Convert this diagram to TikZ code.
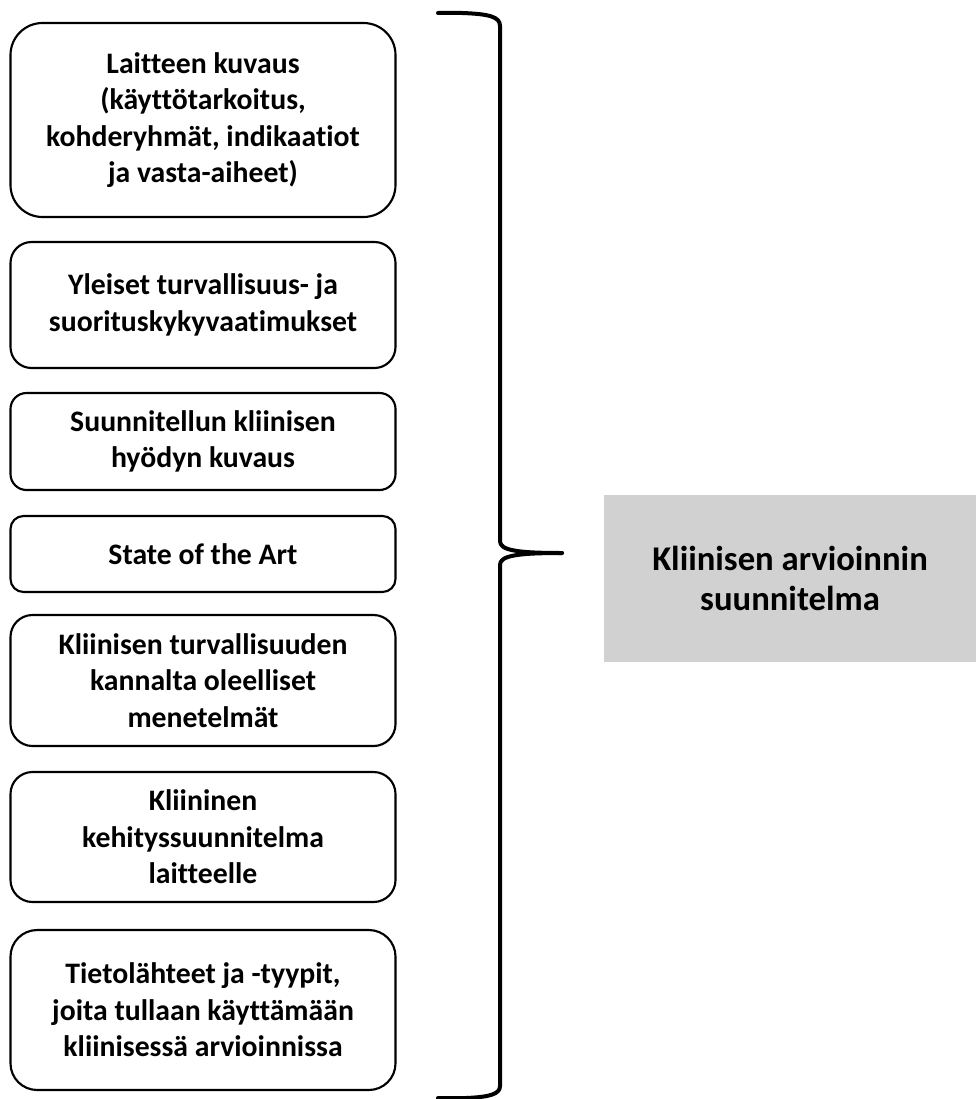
\documentclass[tikz,border=0pt]{standalone}
\usepackage{fontspec}
\setmainfont{Carlito}[Ligatures=NoCommon]
\begin{document}
\begin{tikzpicture}[x=0.75pt,y=-0.75pt,
  item/.style={draw=black, line width=1.6pt, fill=white, align=center,
    minimum width=288.75pt, inner sep=0pt,
    font=\fontsize{22.3}{27.3}\selectfont\bfseries},
  goal/.style={fill=black!18, draw=none, align=center,
    minimum width=279pt, minimum height=125.25pt, inner sep=0pt,
    font=\fontsize{26}{29.5}\selectfont\bfseries},
  bracket/.style={draw=black, line width=3pt, line cap=round, line join=round}]
\useasboundingbox (0,0) rectangle (976,1099);

% list of plan contents
\node[item, minimum height=145.5pt, rounded corners=24pt] (b1) at (203,120)
  {Laitteen kuvaus\\(käyttötarkoitus,\\kohderyhmät, indikaatiot\\ja vasta-aiheet)};
\node[item, minimum height=94.5pt, rounded corners=15.75pt] (b2) at (203,305)
  {Yleiset turvallisuus- ja\\suorituskykyvaatimukset};
\node[item, minimum height=72.75pt, rounded corners=12pt] (b3) at (203,441.5)
  {Suunnitellun kliinisen\\hyödyn kuvaus};
\node[item, minimum height=57pt, rounded corners=9.75pt] (b4) at (203,554)
  {State of the Art};
\node[item, minimum height=98.25pt, rounded corners=16.5pt] (b5) at (203,680.5)
  {Kliinisen turvallisuuden\\kannalta oleelliset\\menetelmät};
\node[item, minimum height=97.5pt, rounded corners=16.5pt] (b6) at (203,837)
  {Kliininen\\kehityssuunnitelma\\laitteelle};
\node[item, minimum height=120pt, rounded corners=20pt] (b7) at (203,1010)
  {Tietolähteet ja -tyypit,\\joita tullaan käyttämään\\kliinisessä arvioinnissa};

% resulting plan
\node[goal] (plan) at (790,578.5) {Kliinisen arvioinnin\\suunnitelma};

% curly bracket gathering the items
\coordinate (top) at (438,13);
\coordinate (tip) at (562,553);
\coordinate (bot) at (438,1098);
\draw[bracket] (top) -- (462,13) .. controls (490,14) and (500,17) .. (500,26)
  -- (500,541) .. controls (500,550) and (515,553) .. (tip);
\draw[bracket] (tip) .. controls (515,553) and (500,556) .. (500,565)
  -- (500,1086) .. controls (500,1094) and (490,1097) .. (466,1098) -- (bot);
\end{tikzpicture}
\end{document}
